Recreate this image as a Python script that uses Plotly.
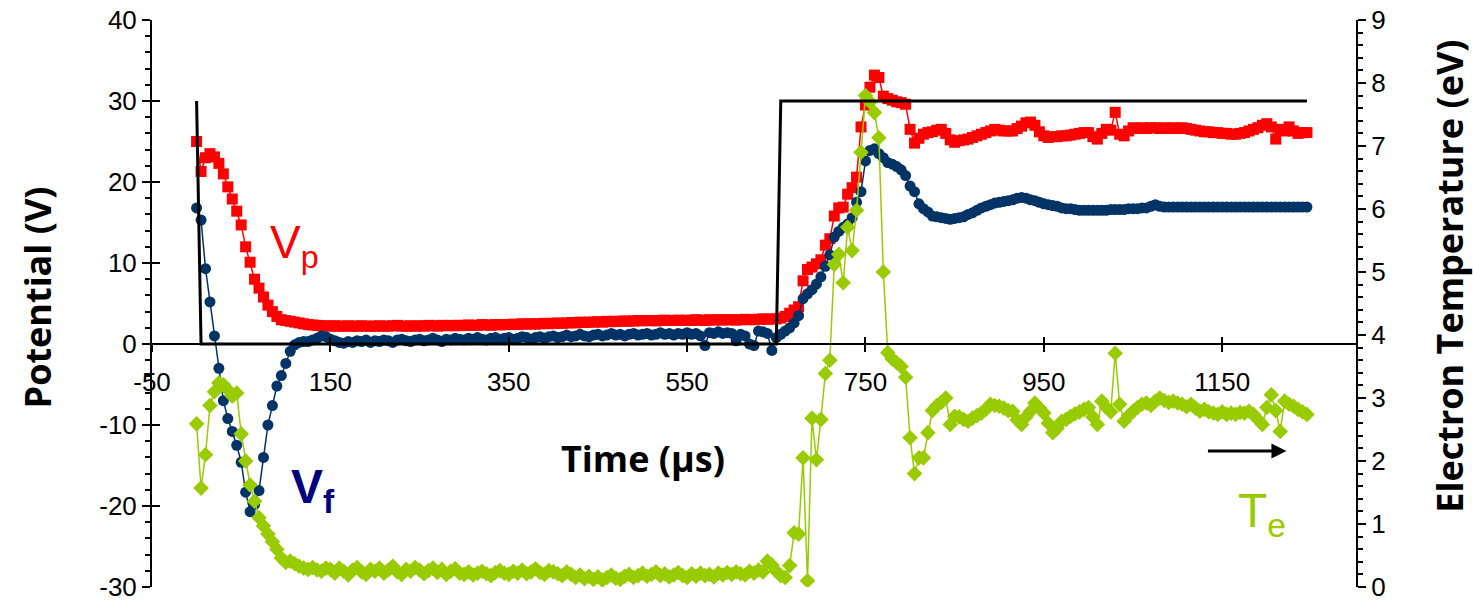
import plotly.graph_objects as go

# time grid (µs), 5 µs sampling
time_us = list(range(0, 1250, 5))

# Plasma potential Vp (V)
vp = [
    25.0, 21.3, 23.0, 23.5, 23.1, 22.3, 21.0, 19.4, 17.9, 16.4,
    14.7, 12.0, 10.1, 8.0, 6.9, 5.8, 4.8, 4.0, 3.4, 3.0,
    2.9, 2.8, 2.7, 2.6, 2.5, 2.4, 2.35, 2.3, 2.25, 2.25,
    2.2, 2.25, 2.2, 2.2, 2.25, 2.2, 2.2, 2.25, 2.2, 2.2,
    2.2, 2.25, 2.2, 2.2, 2.25, 2.3, 2.2, 2.2, 2.25, 2.2,
    2.25, 2.2, 2.3, 2.25, 2.2, 2.3, 2.25, 2.3, 2.25, 2.3,
    2.3, 2.35, 2.3, 2.3, 2.4, 2.35, 2.3, 2.4, 2.35, 2.4,
    2.4, 2.45, 2.4, 2.5, 2.45, 2.5, 2.45, 2.5, 2.55, 2.5,
    2.55, 2.6, 2.55, 2.6, 2.65, 2.6, 2.7, 2.65, 2.7, 2.7,
    2.75, 2.7, 2.8, 2.75, 2.8, 2.8, 2.85, 2.8, 2.85, 2.9,
    2.85, 2.9, 2.9, 2.85, 2.9, 2.95, 2.9, 2.9, 2.95, 2.9,
    2.95, 2.9, 3.0, 2.95, 2.9, 3.0, 2.95, 3.0, 2.95, 3.0,
    3.0, 2.95, 3.0, 3.05, 3.0, 3.0, 3.05, 3.1, 3.05, 3.1,
    3.1, 3.2, 3.4, 3.8, 4.2, 4.6, 7.8, 9.2, 9.5, 9.9,
    10.4, 12.2, 13.0, 15.8, 16.8, 16.9, 18.5, 19.3, 20.6, 26.8,
    29.5, 31.7, 33.2, 32.9, 30.6, 30.3, 30.1, 29.9, 29.8, 29.6,
    26.5, 24.8, 25.4, 25.9, 26.1, 26.2, 26.4, 26.5, 26.0, 25.2,
    24.9, 25.1, 25.2, 25.3, 25.5, 25.7, 25.9, 26.1, 26.3, 26.5,
    26.4, 26.3, 26.3, 26.3, 26.6, 26.9, 27.3, 27.4, 27.0, 26.2,
    25.7, 25.5, 25.6, 25.6, 25.7, 25.7, 25.8, 25.9, 26.0, 26.1,
    26.1, 25.6, 25.3, 26.0, 26.5, 26.4, 28.6, 25.9, 25.7, 26.3,
    26.7, 26.6, 26.7, 26.6, 26.7, 26.7, 26.6, 26.7, 26.6, 26.7,
    26.6, 26.7, 26.6, 26.5, 26.4, 26.3, 26.2, 26.2, 26.1, 26.1,
    26.0, 26.0, 25.9, 25.9, 26.0, 26.1, 26.3, 26.5, 26.7, 27.0,
    27.2, 26.8, 25.3, 26.5, 26.3, 26.8, 26.3, 26.0, 26.1, 26.1,
]

# Floating potential Vf (V)
vf = [
    16.8, 15.3, 9.3, 5.2, 1.0, -3.0, -7.0, -9.2, -10.8, -12.5,
    -14.6, -18.3, -20.7, -19.8, -18.1, -14.0, -10.0, -7.6, -5.2, -3.9,
    -2.4, -0.9, -0.1, 0.2, 0.3, 0.3, 0.5, 0.7, 1.0, 0.9,
    0.6, 0.4, 0.2, 0.1, 0.3, 0.2, 0.4, 0.3, 0.5, 0.2,
    0.4, 0.3, 0.5, 0.4, 0.2, 0.5, 0.6, 0.4, 0.3, 0.5,
    0.6, 0.4, 0.5, 0.7, 0.5, 0.3, 0.6, 0.5, 0.7, 0.6,
    0.5, 0.7, 0.6, 0.8, 0.6, 0.5, 0.7, 0.8, 0.6, 0.7,
    0.8, 0.6, 0.7, 0.9, 0.8, 0.6, 0.8, 0.9, 0.7, 0.9,
    1.0, 0.8, 0.9, 1.1, 0.9, 1.0, 1.2, 1.0, 0.9, 1.1,
    1.2, 1.0, 1.1, 1.3, 1.1, 1.2, 1.0, 1.2, 1.3, 1.1,
    1.2, 1.3, 1.1, 1.2, 1.4, 1.2, 1.3, 1.1, 1.3, 1.2,
    1.4, 1.2, 1.3, 1.0, -0.2, 1.4, 1.3, 1.5, 1.3, 1.4,
    1.3, 0.4, 1.2, 1.0, 0.0, -0.2, 1.6, 1.5, 1.3, -0.8,
    0.8, 1.2, 1.6, 2.0, 2.6, 3.5, 5.6, 6.2, 6.7, 7.4,
    8.3, 9.6, 11.0, 13.2, 13.9, 14.4, 14.8, 15.6, 17.5, 18.8,
    22.6, 23.9, 24.1, 23.5, 23.0, 22.4, 22.2, 21.9, 21.5, 20.8,
    19.5, 18.8, 17.3, 16.7, 16.3, 15.8, 15.7, 15.6, 15.5, 15.4,
    15.5, 15.6, 15.7, 16.0, 16.2, 16.5, 16.8, 17.0, 17.2, 17.4,
    17.5, 17.6, 17.7, 17.8, 18.0, 18.1, 18.0, 17.8, 17.7, 17.5,
    17.3, 17.2, 17.1, 17.0, 16.8, 16.7, 16.7, 16.6, 16.5, 16.5,
    16.5, 16.5, 16.5, 16.5, 16.5, 16.6, 16.6, 16.6, 16.6, 16.7,
    16.7, 16.7, 16.8, 16.8, 17.0, 17.2, 17.0, 16.9, 16.9, 16.9,
    16.9, 16.9, 16.9, 16.9, 16.9, 16.9, 16.9, 16.9, 16.9, 16.9,
    16.9, 16.9, 16.9, 16.9, 16.9, 16.9, 16.9, 16.9, 16.9, 16.9,
    16.9, 16.9, 16.9, 16.9, 16.9, 16.9, 16.9, 16.9, 16.9, 16.9,
]

# Electron temperature Te (eV)
te = [
    2.59, 1.57, 2.10, 2.88, 3.10, 3.24, 3.21, 3.13, 3.03, 3.08,
    2.43, 2.00, 1.62, 1.36, 1.10, 0.97, 0.84, 0.72, 0.60, 0.46,
    0.39, 0.41, 0.37, 0.33, 0.30, 0.28, 0.31, 0.27, 0.25, 0.30,
    0.28, 0.22, 0.30, 0.25, 0.19, 0.27, 0.31, 0.24, 0.20, 0.28,
    0.25, 0.30, 0.22, 0.27, 0.33, 0.24, 0.20, 0.28, 0.25, 0.31,
    0.27, 0.21, 0.26, 0.30, 0.23, 0.28, 0.20, 0.25, 0.29, 0.22,
    0.20, 0.24, 0.19, 0.22, 0.25, 0.21, 0.18, 0.23, 0.26, 0.22,
    0.20, 0.25, 0.22, 0.27, 0.21, 0.24, 0.29, 0.23, 0.20, 0.26,
    0.24, 0.21, 0.18, 0.24, 0.20, 0.15, 0.19, 0.13, 0.17, 0.12,
    0.16, 0.11, 0.15, 0.19, 0.14, 0.12, 0.17, 0.20, 0.15, 0.18,
    0.22, 0.17, 0.20, 0.24, 0.18, 0.21, 0.16, 0.19, 0.23, 0.18,
    0.15, 0.21, 0.17, 0.22, 0.18, 0.20, 0.16, 0.22, 0.19, 0.23,
    0.20, 0.24, 0.21, 0.19, 0.25, 0.22, 0.27, 0.24, 0.41, 0.35,
    0.25, 0.18, 0.15, 0.34, 0.86, 0.84, 2.05, 0.10, 2.68, 2.02,
    2.66, 3.39, 3.60, 5.12, 5.28, 4.83, 5.71, 5.34, 5.98, 6.90,
    7.80, 7.70, 7.53, 7.13, 5.00, 3.72, 3.62, 3.56, 3.50, 3.33,
    2.37, 1.80, 2.05, 2.05, 2.45, 2.80, 2.88, 2.93, 3.00, 2.58,
    2.71, 2.70, 2.66, 2.63, 2.68, 2.72, 2.76, 2.82, 2.90, 2.88,
    2.87, 2.84, 2.80, 2.79, 2.65, 2.58, 2.70, 2.79, 2.92, 2.84,
    2.76, 2.60, 2.45, 2.52, 2.63, 2.66, 2.71, 2.75, 2.78, 2.82,
    2.85, 2.70, 2.58, 2.95, 2.85, 2.78, 3.71, 2.90, 2.63, 2.72,
    2.79, 2.85, 2.90, 2.92, 2.88, 2.95, 3.00, 2.96, 2.93, 2.95,
    2.92, 2.90, 2.86, 2.90, 2.84, 2.79, 2.82, 2.78, 2.76, 2.74,
    2.78, 2.74, 2.76, 2.74, 2.77, 2.76, 2.79, 2.74, 2.66, 2.58,
    2.85, 3.05, 2.80, 2.47, 2.95, 2.90, 2.87, 2.82, 2.78, 2.74,
]

# Gate (pulse) signal, V
gate_t = [0, 5, 650, 655, 1245]
gate_v = [30, 0, 0, 30, 30]

x_ticks = [-50, 150, 350, 550, 750, 950, 1150]
y_ticks = [-30, -20, -10, 0, 10, 20, 30, 40]
te_ticks = [0, 1, 2, 3, 4, 5, 6, 7, 8, 9]

RED = "#FF0000"
NAVY = "#003366"
GREEN = "#99CC00"
TICKFONT = dict(family="Liberation Sans, Arial, sans-serif", size=26, color="black")
TITLEFONT = dict(family="Open Sans, sans-serif", size=36, color="black")

fig = go.Figure()
fig.add_trace(go.Scatter(x=gate_t, y=gate_v, mode="lines",
                         line=dict(color="black", width=3),
                         xaxis="x2", yaxis="y3", showlegend=False))
fig.add_trace(go.Scatter(x=time_us, y=vp, mode="lines+markers",
                         line=dict(color=RED, width=1.5),
                         marker=dict(symbol="square", size=11, color=RED),
                         showlegend=False))
fig.add_trace(go.Scatter(x=time_us, y=vf, mode="lines+markers",
                         line=dict(color=NAVY, width=1.5),
                         marker=dict(symbol="circle", size=11, color=NAVY),
                         showlegend=False))
fig.add_trace(go.Scatter(x=time_us, y=te, mode="lines+markers",
                         line=dict(color=GREEN, width=1.5),
                         marker=dict(symbol="diamond", size=12, color=GREEN),
                         yaxis="y2", showlegend=False))

xr = [-50, 1300]
yr = [-30, 40]
ter = [0, 9]
zero_pos = 30 / 70

fig.update_layout(
    width=1473, height=600,
    margin=dict(l=152, r=117, t=20, b=13, autoexpand=False),
    paper_bgcolor="white", plot_bgcolor="white",
    xaxis=dict(range=xr, anchor="free", position=zero_pos, automargin=False,
               showline=True, linecolor="black", linewidth=2,
               tickmode="array", tickvals=x_ticks, ticktext=[str(v) for v in x_ticks],
               ticks="outside", ticklen=7, tickwidth=2, tickcolor="black",
               tickfont=TICKFONT, ticklabelstandoff=8, ticklabeloverflow="allow",
               showgrid=False, zeroline=False),
    xaxis2=dict(range=xr, overlaying="x", anchor="free", position=zero_pos, automargin=False,
                showline=False, tickvals=x_ticks, ticks="inside", ticklen=7, tickwidth=2,
                tickcolor="black", showticklabels=False, showgrid=False, zeroline=False),
    yaxis=dict(range=yr, tickmode="array", tickvals=y_ticks,
               ticktext=[str(v) for v in y_ticks],
               showline=True, linecolor="black", linewidth=2, automargin=False,
               ticks="outside", ticklen=8, tickwidth=2, tickcolor="black",
               minor=dict(tickmode="linear", tick0=-30, dtick=2, ticks="outside",
                          ticklen=5, tickwidth=1.5, tickcolor="black"),
               tickfont=TICKFONT, ticklabeloverflow="allow",
               showgrid=False, zeroline=False),
    yaxis3=dict(range=yr, tickvals=y_ticks, overlaying="y", anchor="x", side="left",
                automargin=False,
                ticks="inside", ticklen=8, tickwidth=2, tickcolor="black",
                showticklabels=False, showline=False, showgrid=False, zeroline=False),
    yaxis2=dict(range=ter, tickmode="array", tickvals=te_ticks,
                ticktext=[str(v) for v in te_ticks],
                overlaying="y", anchor="x", side="right", automargin=False,
                showline=True, linecolor="black", linewidth=2,
                ticks="outside", ticklen=8, tickwidth=2, tickcolor="black",
                minor=dict(tickmode="linear", tick0=0, dtick=0.2, ticks="outside",
                           ticklen=5, tickwidth=1.5, tickcolor="black"),
                tickfont=TICKFONT, ticklabeloverflow="allow",
                showgrid=False, zeroline=False),
    yaxis4=dict(range=ter, tickvals=te_ticks, overlaying="y", anchor="x", side="right",
                automargin=False,
                ticks="inside", ticklen=8, tickwidth=2, tickcolor="black",
                showticklabels=False, showline=False, showgrid=False, zeroline=False),
)

annotations = [
    dict(text="<b>Potential (V)</b>", xref="paper", yref="paper", x=-0.095, y=0.51,
         xanchor="center", yanchor="middle",
         textangle=-90, showarrow=False, font=TITLEFONT),
    dict(text="<b>Electron Temperature (eV)</b>", xref="paper", yref="paper", x=1.078, y=0.549,
         xanchor="center", yanchor="middle",
         textangle=-90, showarrow=False, font=TITLEFONT),
    dict(text="<b>Time (µs)</b>", xref="paper", yref="paper", x=0.408, y=0.226,
         xanchor="center", yanchor="middle",
         showarrow=False, font=TITLEFONT),
    dict(text="V<sub>p</sub>", xref="x", yref="y", x=80, y=12.1, xanchor="left",
         showarrow=False, font=dict(family="Liberation Sans, Arial", size=46, color=RED)),
    dict(text="<b>V<sub>f</sub></b>", xref="x", yref="y", x=104, y=-18.0, xanchor="left",
         showarrow=False, font=dict(family="Liberation Sans, Arial", size=48, color="#000080")),
    dict(text="T<sub>e</sub>", xref="x", yref="y", x=1166, y=-21.0, xanchor="left",
         showarrow=False, font=dict(family="Liberation Sans, Arial", size=48, color=GREEN)),
    dict(text="", xref="x", yref="y", x=1222, y=-13.2, ax=-80, ay=0,
         showarrow=True, arrowhead=2, arrowsize=1, arrowwidth=3, arrowcolor="black"),
]
fig.update_layout(annotations=annotations)

# remove the default page margin so the 1473x600 figure fills the window exactly
fig.write_html("out.html",
               config={"displayModeBar": False},
               post_script="document.body.style.margin='0';document.body.style.overflow='hidden';")
